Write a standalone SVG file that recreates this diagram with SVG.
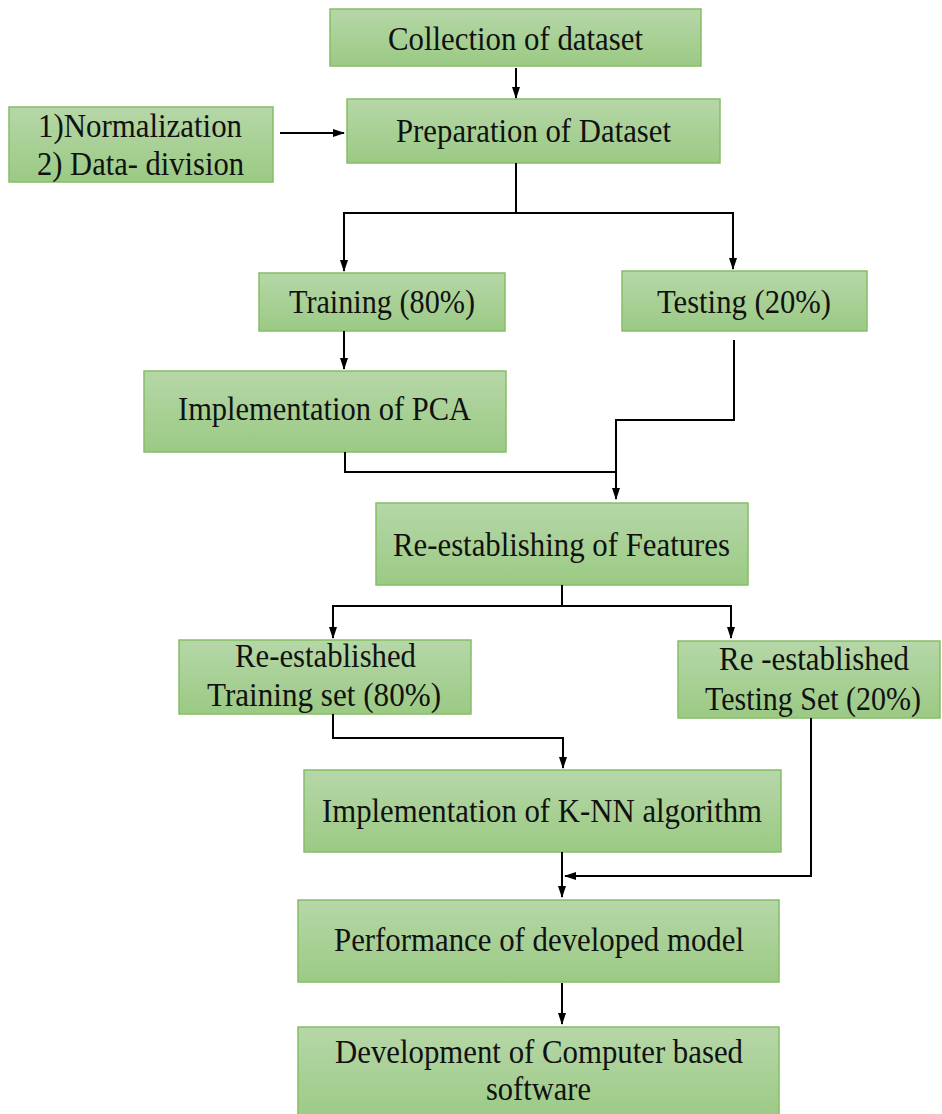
<svg xmlns="http://www.w3.org/2000/svg" width="942" height="1114" viewBox="0 0 942 1114">
<defs>
<linearGradient id="g" x1="0" y1="0" x2="0" y2="1">
<stop offset="0" stop-color="#b6d7a8"/>
<stop offset="1" stop-color="#9bca84"/>
</linearGradient>
<marker id="ah" markerWidth="12" markerHeight="10" refX="11" refY="5" orient="auto" markerUnits="userSpaceOnUse">
<path d="M0,1 L12,5 L0,9 Z" fill="#000"/>
</marker>
</defs>
<style>
.box{fill:url(#g);stroke:#86bd66;stroke-width:1.5}
.t{font-family:"Liberation Serif","Times New Roman",serif;font-size:34px;fill:#111;text-anchor:middle}
.c{fill:none;stroke:#000;stroke-width:2}
</style>
<rect width="942" height="1114" fill="#fff"/>
<g id="n1"><rect class="box" x="330" y="9" width="371" height="57"/><text class="t" x="515.5" y="50" textLength="255" lengthAdjust="spacingAndGlyphs">Collection of dataset</text></g>
<g id="n2"><rect class="box" x="9" y="107" width="264" height="75"/><text class="t" x="140" y="137" textLength="204" lengthAdjust="spacingAndGlyphs">1)Normalization</text><text class="t" x="140.5" y="175" textLength="207" lengthAdjust="spacingAndGlyphs">2) Data- division</text></g>
<g id="n3"><rect class="box" x="347" y="99" width="373" height="64"/><text class="t" x="533.5" y="142" textLength="275" lengthAdjust="spacingAndGlyphs">Preparation of Dataset</text></g>
<g id="n4"><rect class="box" x="259" y="273" width="246" height="58"/><text class="t" x="382" y="313" textLength="186" lengthAdjust="spacingAndGlyphs">Training (80%)</text></g>
<g id="n5"><rect class="box" x="622" y="271" width="245" height="60"/><text class="t" x="744" y="313" textLength="174" lengthAdjust="spacingAndGlyphs">Testing (20%)</text></g>
<g id="n6"><rect class="box" x="144" y="371" width="362" height="81"/><text class="t" x="324.5" y="420" textLength="293" lengthAdjust="spacingAndGlyphs">Implementation of PCA</text></g>
<g id="n7"><rect class="box" x="376" y="503" width="372" height="82"/><text class="t" x="561.5" y="556" textLength="337" lengthAdjust="spacingAndGlyphs">Re-establishing of Features</text></g>
<g id="n8"><rect class="box" x="179" y="640" width="292" height="74"/><text class="t" x="325.5" y="667" textLength="181" lengthAdjust="spacingAndGlyphs">Re-established</text><text class="t" x="324" y="706" textLength="234" lengthAdjust="spacingAndGlyphs">Training set (80%)</text></g>
<g id="n9"><rect class="box" x="678" y="641" width="262" height="77"/><text class="t" x="814" y="670" textLength="190" lengthAdjust="spacingAndGlyphs">Re -established</text><text class="t" x="813" y="710" textLength="216" lengthAdjust="spacingAndGlyphs">Testing Set (20%)</text></g>
<g id="n10"><rect class="box" x="304" y="770" width="477" height="82"/><text class="t" x="542" y="822" textLength="440" lengthAdjust="spacingAndGlyphs">Implementation of K-NN algorithm</text></g>
<g id="n11"><rect class="box" x="298" y="900" width="481" height="82"/><text class="t" x="539" y="951" textLength="410" lengthAdjust="spacingAndGlyphs">Performance of developed model</text></g>
<g id="n12"><rect class="box" x="298" y="1027" width="481" height="95"/><text class="t" x="539" y="1063" textLength="408" lengthAdjust="spacingAndGlyphs">Development of Computer based</text><text class="t" x="538.5" y="1100" textLength="105" lengthAdjust="spacingAndGlyphs">software</text></g>
<g id="connectors">
<path class="c" d="M516,68 V98" marker-end="url(#ah)"/>
<path class="c" d="M280,133 H344" marker-end="url(#ah)"/>
<path class="c" d="M516,163 V213"/>
<path class="c" d="M516,213 H344 V271" marker-end="url(#ah)"/>
<path class="c" d="M516,213 H733 V269" marker-end="url(#ah)"/>
<path class="c" d="M344,331 V369" marker-end="url(#ah)"/>
<path class="c" d="M734,340 V420 H616 V499" marker-end="url(#ah)"/>
<path class="c" d="M345,452 V472 H616"/>
<path class="c" d="M562,585 V606"/>
<path class="c" d="M562,606 H333 V638" marker-end="url(#ah)"/>
<path class="c" d="M562,606 H731 V638" marker-end="url(#ah)"/>
<path class="c" d="M333,714 V738 H563 V768" marker-end="url(#ah)"/>
<path class="c" d="M562,852 V897" marker-end="url(#ah)"/>
<path class="c" d="M811,718 V876 H565" marker-end="url(#ah)"/>
<path class="c" d="M562,983 V1024" marker-end="url(#ah)"/>
</g>
</svg>
